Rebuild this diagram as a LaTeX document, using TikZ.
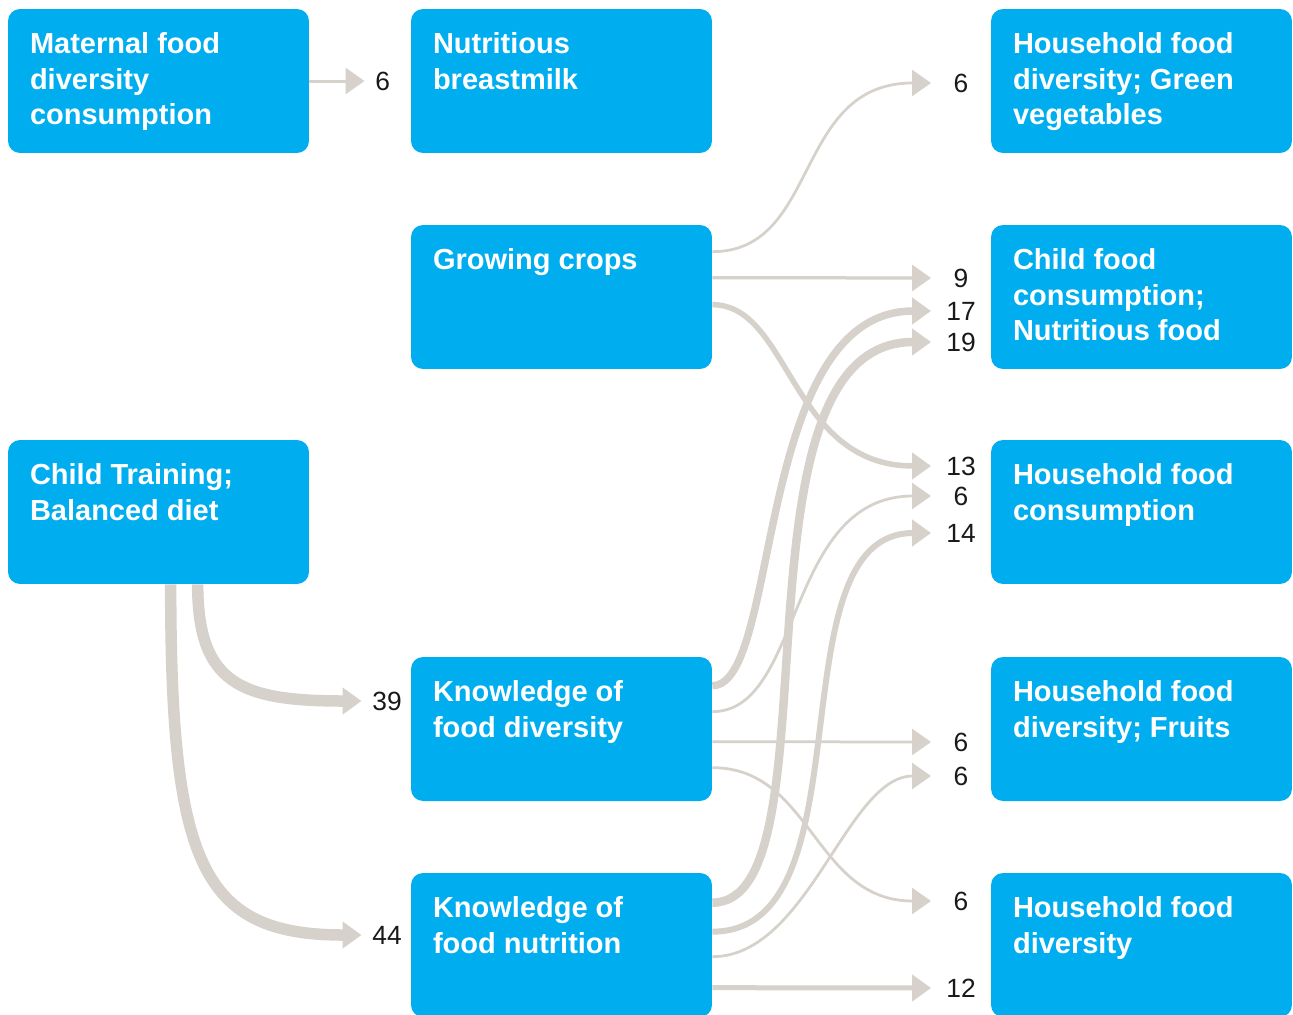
\documentclass[tikz,border=0pt]{standalone}
\usepackage{fontspec}
\setmainfont{Liberation Sans}
\usepackage{xcolor}
\usepackage{tikz}
\usetikzlibrary{arrows.meta,calc}
\definecolor{boxcolor}{RGB}{0,174,239}
\definecolor{flowcolor}{RGB}{214,209,202}
\definecolor{numcolor}{RGB}{25,25,25}

\begin{document}
\begin{tikzpicture}[x=0.02cm,y=-0.02cm,
  box/.style={fill=boxcolor,rounded corners=0.24cm,minimum width=6.02cm,minimum height=2.88cm,inner sep=0},
  boxtext/.style={anchor=north west,xshift=0.44cm,yshift=-0.47cm,inner sep=0,align=left,text=white,
    font=\bfseries\fontsize{16.5}{20.2}\selectfont},
  num/.style={inner sep=0,text=numcolor,font=\fontsize{15}{18}\selectfont},
  flow/.style={draw=flowcolor,line width=#1,-{Triangle[length=0.38cm,width=0.52cm]}},
  flow/.default=0.055cm]
  \useasboundingbox (0,0) rectangle (1293,1014);

  % three columns of boxes, rows 216 apart
  \node[box] (mat) at (158.5,81) {};
  \node[box] (nbm) at (561.5,81) {};
  \node[box] (hgv) at (1141.5,81) {};
  \node[box] (gc)  at (561.5,297) {};
  \node[box] (cfc) at (1141.5,297) {};
  \node[box] (ct)  at (158.5,512) {};
  \node[box] (hfc) at (1141.5,512) {};
  \node[box] (kfd) at (561.5,729) {};
  \node[box] (hfr) at (1141.5,729) {};
  \node[box] (kfn) at (561.5,945) {};
  \node[box] (hfd) at (1141.5,945) {};

  \node[boxtext] at (mat.north west) {Maternal food\\diversity\\consumption};
  \node[boxtext] at (nbm.north west) {Nutritious\\breastmilk};
  \node[boxtext] at (hgv.north west) {Household food\\diversity; Green\\vegetables};
  \node[boxtext] at (gc.north west)  {Growing crops};
  \node[boxtext] at (cfc.north west) {Child food\\consumption;\\Nutritious food};
  \node[boxtext] at (ct.north west)  {Child Training;\\Balanced diet};
  \node[boxtext] at (hfc.north west) {Household food\\consumption};
  \node[boxtext] at (kfd.north west) {Knowledge of\\food diversity};
  \node[boxtext] at (hfr.north west) {Household food\\diversity; Fruits};
  \node[boxtext] at (kfn.north west) {Knowledge of\\food nutrition};
  \node[boxtext] at (hfd.north west) {Household food\\diversity};

  % counts at the arrow heads
  \node[num,anchor=west] (l6)  at (375,81)  {6};
  \node[num,anchor=west] (l39) at (372,701) {39};
  \node[num,anchor=west] (l44) at (372,935) {44};
  \node[num] (r6a) at (961,83)  {6};
  \node[num] (r9)  at (961,278) {9};
  \node[num] (r17) at (961,311) {17};
  \node[num] (r19) at (961,342) {19};
  \node[num] (r13) at (961,466) {13};
  \node[num] (r6b) at (961,496) {6};
  \node[num] (r14) at (961,533) {14};
  \node[num] (r6c) at (961,742) {6};
  \node[num] (r6d) at (961,776) {6};
  \node[num] (r6e) at (961,901) {6};
  \node[num] (r12) at (961,988) {12};

  % flows, width roughly by count
  \draw[flow=0.06cm] (mat.east) -- ([xshift=-0.21cm]l6.west);
  \draw[flow=0.23cm] ($(ct.south west)+(190,0)$) .. controls +(0,100) and +(-120,0) .. ([xshift=-0.21cm]l39.west);
  \draw[flow=0.23cm] ($(ct.south west)+(163,0)$) .. controls +(0,280) and +(-160,0) .. ([xshift=-0.21cm]l44.west);

  \draw[flow] ($(gc.north east)+(0,27)$) .. controls +(108,0) and +(-138,0) .. ([xshift=-0.6cm]r6a.center);
  \draw[flow=0.065cm] ($(gc.north east)+(0,53)$) -- ([xshift=-0.6cm]r9.center);
  \draw[flow=0.11cm] ($(gc.north east)+(0,80)$) .. controls +(78,0) and +(-141,0) .. ([xshift=-0.6cm]r13.center);

  \draw[flow=0.15cm] ($(kfd.north east)+(0,29)$) .. controls +(69,0) and +(-178,0) .. ([xshift=-0.6cm]r17.center);
  \draw[flow] ($(kfd.north east)+(0,55)$) .. controls +(91,0) and +(-146,0) .. ([xshift=-0.6cm]r6b.center);
  \draw[flow] ($(kfd.north east)+(0,85)$) -- ([xshift=-0.6cm]r6c.center);
  \draw[flow] ($(kfd.north east)+(0,111)$) .. controls +(100,0) and +(-117,0) .. ([xshift=-0.6cm]r6e.center);

  \draw[flow=0.17cm] ($(kfn.north east)+(0,30)$) .. controls +(129,0) and +(-210,0) .. ([xshift=-0.6cm]r19.center);
  \draw[flow=0.12cm] ($(kfn.north east)+(0,59)$) .. controls +(160,0) and +(-160,0) .. ([xshift=-0.6cm]r14.center);
  \draw[flow] ($(kfn.north east)+(0,84)$) .. controls +(96,0) and +(-84,0) .. ([xshift=-0.6cm]r6d.center);
  \draw[flow=0.1cm] ($(kfn.north east)+(0,115)$) -- ([xshift=-0.6cm]r12.center);
\end{tikzpicture}
\end{document}
